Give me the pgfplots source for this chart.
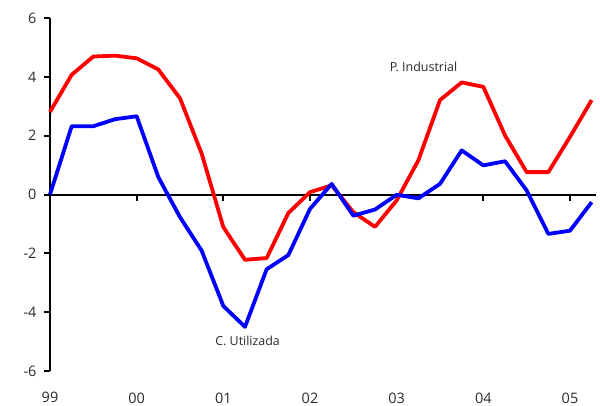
\documentclass[border=0pt]{standalone}
\usepackage{fontspec}
\setmainfont{Open Sans}
\usepackage{pgfplots}
\pgfplotsset{compat=1.18}
\usetikzlibrary{calc}

\definecolor{txt}{HTML}{2A2A2A}

\pgfplotstableread{
x      ind    cap
0.00   2.81   0.00
0.25   4.07   2.32
0.50   4.69   2.32
0.75   4.72   2.56
1.00   4.63   2.66
1.25   4.25   0.59
1.50   3.27  -0.77
1.75   1.39  -1.91
2.00  -1.11  -3.79
2.25  -2.22  -4.50
2.50  -2.16  -2.54
2.75  -0.63  -2.06
3.00   0.08  -0.49
3.25   0.31   0.36
3.50  -0.60  -0.72
3.75  -1.10  -0.51
4.00  -0.20  -0.01
4.25   1.16  -0.13
4.50   3.21   0.36
4.75   3.81   1.50
5.00   3.66   0.99
5.25   2.01   1.13
5.50   0.76   0.14
5.75   0.76  -1.34
6.00   1.96  -1.23
6.25   3.21  -0.26
}\datatable

\begin{document}
\begin{tikzpicture}
\begin{axis}[
  name=ax,
  scale only axis,
  width=546bp, height=353bp,
  xmin=0, xmax=6.3,
  ymin=-6, ymax=6,
  axis y line*=left,
  axis x line*=bottom,
  x axis line style={draw=none},
  y axis line style={line width=2bp, black},
  ytick={-6,-4,...,6},
  xtick={0,1,2,3,4,5,6},
  xticklabels={99,00,01,02,03,04,05},
  xtick style={draw=none},
  ytick style={line width=2bp, black},
  tick align=outside,
  major tick length=6bp,
  /pgf/number format/assume math mode=true,
  ticklabel style={font=\fontsize{14.5}{17}\selectfont, text=txt},
  yticklabel style={xshift=-4bp},
  xticklabel style={yshift=-12bp},
  clip=false,
]
\draw[line width=2bp, black] (axis cs:0,0) -- (axis cs:6.3,0);
\draw[line width=2bp, black] (axis cs:1,0) -- ++(0pt,-6bp);
\draw[line width=2bp, black] (axis cs:2,0) -- ++(0pt,-6bp);
\draw[line width=2bp, black] (axis cs:3,0) -- ++(0pt,-6bp);
\draw[line width=2bp, black] (axis cs:4,0) -- ++(0pt,-6bp);
\draw[line width=2bp, black] (axis cs:5,0) -- ++(0pt,-6bp);
\draw[line width=2bp, black] (axis cs:6,0) -- ++(0pt,-6bp);
\addplot[color=red, line width=3.8bp, line join=round] table[x=x, y=ind] {\datatable};
\addplot[color=blue, line width=3.8bp, line join=round] table[x=x, y=cap] {\datatable};
\node[font=\fontsize{12.5}{15}\selectfont, text=txt] at (axis cs:4.31,4.33) {P. Industrial};
\node[font=\fontsize{12.5}{15}\selectfont, text=txt] at (axis cs:2.28,-4.98) {C. Utilizada};
\end{axis}
\pgfresetboundingbox
\path[use as bounding box] ($(ax.south west)+(-50bp,-34bp)$) rectangle ($(ax.north east)+(4bp,18bp)$);
\end{tikzpicture}
\end{document}
